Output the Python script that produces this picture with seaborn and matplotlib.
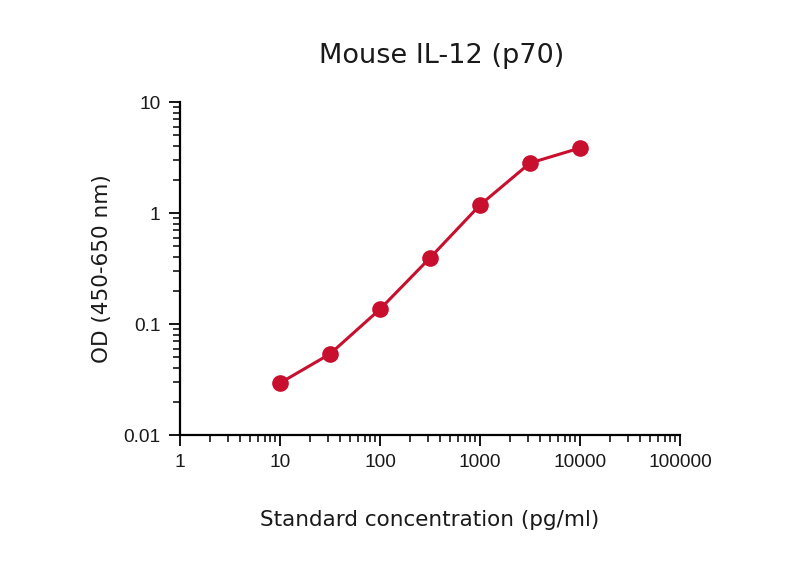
import numpy as np
import matplotlib
matplotlib.use("Agg")
import matplotlib.pyplot as plt
import matplotlib.ticker as mticker
import seaborn as sns
import pandas as pd

# standard curve values
conc = [10, 31.6, 100, 316, 1000, 3162, 10000]
od = [0.0294, 0.0537, 0.136, 0.394, 1.18, 2.82, 3.85]
xticks = [1, 10, 100, 1000, 10000, 100000]
xticklabels = ["1", "10", "100", "1000", "10000", "100000"]
yticks = [0.01, 0.1, 1, 10]
yticklabels = ["0.01", "0.1", "1", "10"]

sns.set_style("ticks")
plt.rcParams["text.color"] = "#1a1a1a"
plt.rcParams["axes.labelcolor"] = "#1a1a1a"
red = "#c8102e"

df = pd.DataFrame({"conc": conc, "od": od})

fig = plt.figure(figsize=(8, 5.69), dpi=100)
ax = fig.add_axes([0.225, 0.2355, 0.625, 0.5852])

sns.lineplot(data=df, x="conc", y="od", ax=ax, color=red, lw=2.2,
             marker="o", markersize=12, markeredgewidth=0, markerfacecolor=red)

ax.set_xscale("log")
ax.set_yscale("log")
ax.set_xlim(1, 100000)
ax.set_ylim(0.01, 10)

ax.set_xticks(xticks)
ax.set_xticklabels(xticklabels, fontfamily="Liberation Sans", fontsize=13.8, color="#1a1a1a")
ax.set_yticks(yticks)
ax.set_yticklabels(yticklabels, fontfamily="Liberation Sans", fontsize=13.8, color="#1a1a1a")
ax.xaxis.set_minor_locator(mticker.LogLocator(base=10, subs=np.arange(2, 10), numticks=20))
ax.yaxis.set_minor_locator(mticker.LogLocator(base=10, subs=np.arange(2, 10), numticks=20))
ax.xaxis.set_minor_formatter(mticker.NullFormatter())
ax.yaxis.set_minor_formatter(mticker.NullFormatter())
ax.tick_params(which="major", length=8, width=1.3, color="black", pad=6)
ax.tick_params(which="minor", length=5, width=1.1, color="black")

for s in ["top", "right"]:
    ax.spines[s].set_visible(False)
for s in ["left", "bottom"]:
    ax.spines[s].set_linewidth(1.6)
    ax.spines[s].set_color("black")

ax.set_xlabel("Standard concentration (pg/ml)", fontfamily="DejaVu Sans", fontsize=15.5, labelpad=28)
ax.set_ylabel("OD (450-650 nm)", fontfamily="DejaVu Sans", fontsize=15.5, labelpad=8)
fig.text(0.552, 0.902, "Mouse IL-12 (p70)", ha="center", va="center",
         fontfamily="DejaVu Sans", fontsize=19.5)

fig.savefig("out.png", dpi=100)
